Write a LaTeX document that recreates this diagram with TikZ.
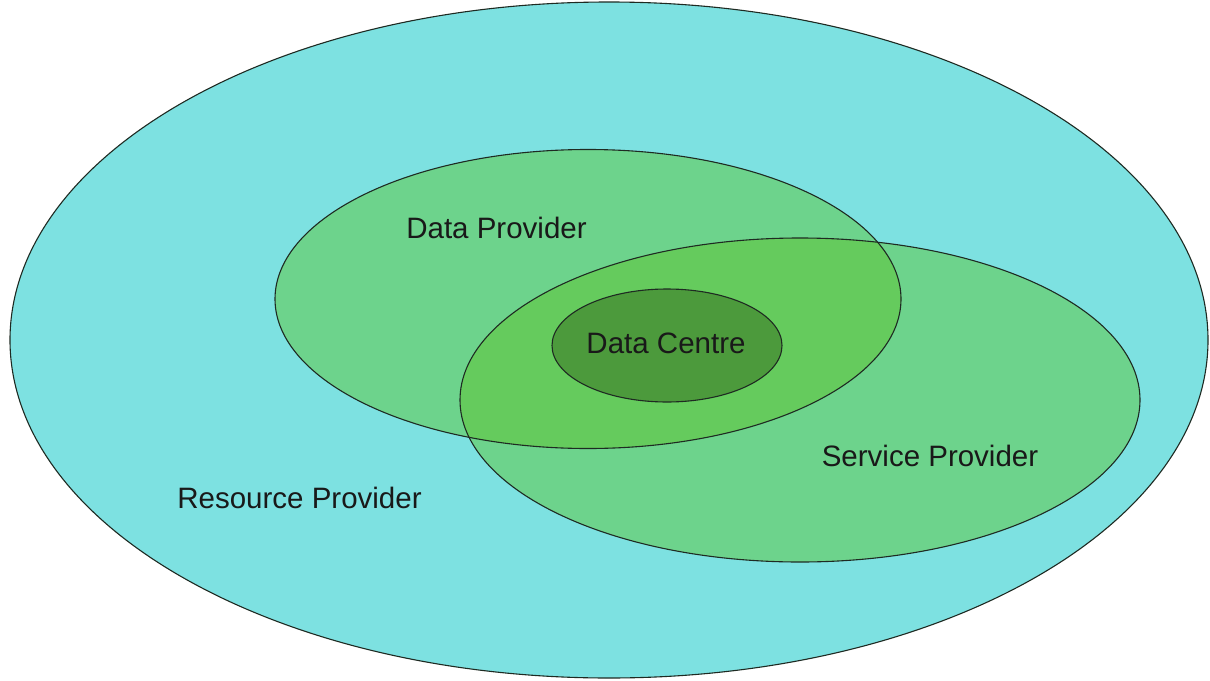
\documentclass[tikz,border=0pt]{standalone}
\usepackage{fontspec}
\setmainfont{Liberation Sans}
\definecolor{resourcecyan}{HTML}{7DE1E1}
\definecolor{providergreen}{HTML}{6DD38C}
\definecolor{overlapgreen}{HTML}{65CB5D}
\definecolor{centregreen}{HTML}{4C9A3C}
\definecolor{outline}{HTML}{1E2A22}
\begin{document}
\begin{tikzpicture}[x=1pt,y=-1pt,
  region/.style={draw=outline,line width=1.1pt},
  label/.style={anchor=base,inner sep=0pt,text=black!90,font=\fontsize{29.5}{35}\selectfont}]
  % page
  \useasboundingbox (0,0) rectangle (1210,680);
  \fill[white] (0,0) rectangle (1210,680);

  % Resource Provider (outer region)
  \path[region,fill=resourcecyan] (609,340) ellipse [x radius=599,y radius=338];

  % Data Provider and Service Provider
  \path[fill=providergreen] (588,299) ellipse [x radius=313,y radius=149.5];
  \path[fill=providergreen] (800,400) ellipse [x radius=340,y radius=162];
  \begin{scope}
    \clip (588,299) ellipse [x radius=313,y radius=149.5];
    \path[fill=overlapgreen] (800,400) ellipse [x radius=340,y radius=162];
  \end{scope}
  \path[region] (588,299) ellipse [x radius=313,y radius=149.5];
  \path[region] (800,400) ellipse [x radius=340,y radius=162];

  % Data Centre
  \path[region,fill=centregreen] (667,345.5) ellipse [x radius=115,y radius=56.5];

  % labels
  \node[label] (dp) at (496.5,238.5) {Data Provider};
  \node[label] (dc) at (666,353) {Data Centre};
  \node[label] (sp) at (930,466.5) {Service Provider};
  \node[label] (rp) at (299.5,508.5) {Resource Provider};
\end{tikzpicture}
\end{document}
